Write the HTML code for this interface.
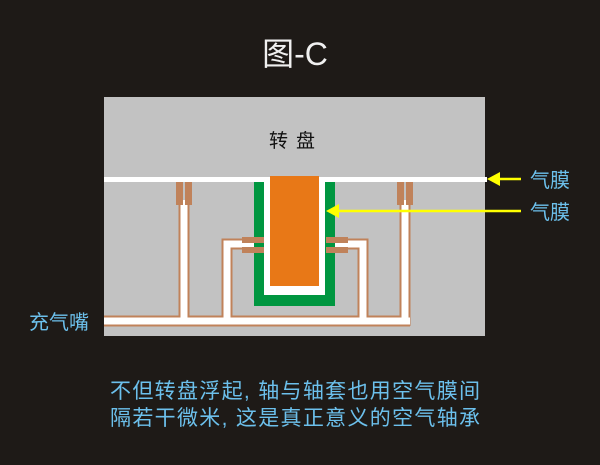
<!DOCTYPE html>
<html><head><meta charset="utf-8"><style>
html,body{margin:0;padding:0;background:#1e1a17;}
svg{display:block}
</style></head><body>
<svg width="600" height="465" viewBox="0 0 600 465" xmlns="http://www.w3.org/2000/svg">
<rect width="600" height="465" fill="#1e1a17"/>
<text x="295" y="65" font-family="Liberation Sans, Noto Sans CJK SC, sans-serif" font-size="32" fill="#f0f0f0" text-anchor="middle">图-C</text>
<rect x="104" y="97" width="381" height="239" fill="#c2c2c2"/>
<text x="296" y="147" font-family="Liberation Sans, Noto Sans CJK SC, sans-serif" font-size="19" fill="#111" text-anchor="middle" letter-spacing="8">转盘</text>
<rect x="104" y="177" width="383" height="5" fill="#fff"/>
<rect x="254" y="182" width="81" height="124" fill="#009640"/>
<rect x="264" y="182" width="61" height="113" fill="#fff"/>
<rect x="270" y="176" width="49" height="110" fill="#e87817"/>
<g fill="none" stroke="#c0825a" stroke-width="11">
<path d="M104 321 H410"/><path d="M184 205 V326"/><path d="M405 205 V326"/>
<path d="M227 321 V244 H254"/><path d="M363 321 V244 H335"/>
</g>
<g fill="none" stroke="#fff" stroke-width="7">
<path d="M104 321 H410"/><path d="M184 200 V321"/><path d="M405 200 V321"/>
<path d="M227 321 V244 H254"/><path d="M363 321 V244 H335"/>
</g>
<g fill="#c0825a">
<rect x="176" y="182" width="7" height="23"/><rect x="185" y="182" width="7" height="23"/>
<rect x="397" y="182" width="7" height="23"/><rect x="406" y="182" width="7" height="23"/>
<rect x="242" y="237" width="22" height="6"/><rect x="242" y="247" width="22" height="6"/>
<rect x="326" y="237" width="22" height="6"/><rect x="326" y="247" width="22" height="6"/>
</g>
<g fill="#ffff00" stroke="#ffff00">
<line x1="495" y1="179" x2="521" y2="179" stroke-width="2.5"/>
<polygon points="487,179 500,172 500,186" stroke="none"/>
<line x1="335" y1="211" x2="521" y2="211" stroke-width="2.5"/>
<polygon points="326,211 339,204 339,218" stroke="none"/>
</g>
<g font-family="Liberation Sans, Noto Sans CJK SC, sans-serif" font-size="20" fill="#6cc0ec">
<text x="530" y="187">气膜</text>
<text x="530" y="219">气膜</text>
<text x="29" y="329">充气嘴</text>
<text x="110" y="398" font-size="21" textLength="370" lengthAdjust="spacing">不但转盘浮起, 轴与轴套也用空气膜间</text>
<text x="110" y="425" font-size="21" textLength="370" lengthAdjust="spacing">隔若干微米, 这是真正意义的空气轴承</text>
</g>
</svg>
</body></html>
